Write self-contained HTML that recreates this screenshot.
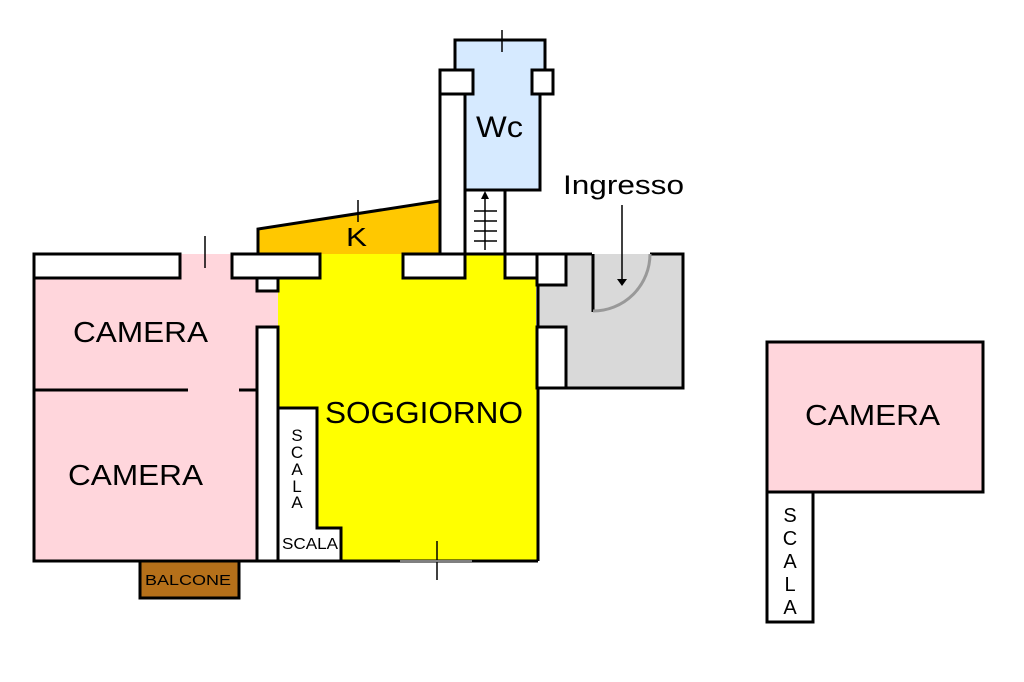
<!DOCTYPE html>
<html><head><meta charset="utf-8"><style>
html,body{margin:0;padding:0;background:#fff;width:1024px;height:682px;overflow:hidden}
svg{display:block}
text{font-family:"Liberation Sans",Arial,sans-serif;fill:#000}
</style></head><body>
<svg width="1024" height="682" viewBox="0 0 1024 682" xmlns="http://www.w3.org/2000/svg">
<polygon points="258,229 439,201 439,256 258,256" fill="#ffc800"/>
<rect x="34" y="254" width="244" height="307" fill="#ffd6dc"/>
<rect x="278" y="254" width="260" height="307" fill="#ffff00"/>
<rect x="536" y="254" width="147" height="134" fill="#d9d9d9"/>
<rect x="455" y="40" width="90" height="40" fill="#d6eaff"/>
<rect x="465" y="80" width="75" height="110" fill="#d6eaff"/>
<g stroke="#000" stroke-width="3" fill="#fff">
<polyline points="258,256 258,229 439,201" fill="none"/>
<polyline points="455,70 455,40 545,40 545,70" fill="none"/>
<polyline points="540,94 540,190 465,190" fill="none"/>
<rect x="465" y="190" width="40" height="64"/>
<rect x="440" y="94" width="25" height="160"/>
<rect x="440" y="70" width="33" height="24"/>
<rect x="532" y="70" width="21" height="24"/>
<polyline points="278,561 34,561 34,254" fill="none"/>
<line x1="278" y1="561" x2="538" y2="561"/>
<line x1="538" y1="278" x2="538" y2="561"/>
<rect x="34" y="254" width="146" height="24"/>
<rect x="232" y="254" width="88" height="24"/>
<rect x="257" y="278" width="21" height="13"/>
<rect x="403" y="254" width="62" height="24"/>
<rect x="505" y="254" width="33" height="24"/>
<rect x="257" y="327" width="21" height="234"/>
<line x1="34" y1="390" x2="188" y2="390"/>
<line x1="239" y1="390" x2="257" y2="390"/>
<polygon points="278,408 317,408 317,528 341,528 341,561 278,561"/>
<rect x="140" y="561" width="99" height="37" fill="#b5701a"/>
<rect x="537" y="254" width="29" height="31"/>
<rect x="537" y="327" width="29" height="61"/>
<polyline points="566,388 683,388 683,254 650,254" fill="none"/>
<line x1="566" y1="254" x2="592" y2="254"/>
<line x1="593" y1="254" x2="593" y2="312"/>
<rect x="767" y="342" width="216" height="150" fill="#ffd6dc"/>
<rect x="767" y="492" width="46" height="130"/>
</g>
<path d="M650,254 A57,57 0 0 1 593,311" fill="none" stroke="#999" stroke-width="3"/>
<g stroke="#000" stroke-width="1.5" fill="none">
<line x1="205" y1="236" x2="205" y2="268"/>
<line x1="358" y1="200" x2="358" y2="222"/>
<line x1="502" y1="30" x2="502" y2="52"/>
<line x1="437" y1="541" x2="437" y2="580"/>
<line x1="485" y1="250" x2="485" y2="196"/>
<line x1="474" y1="211" x2="497" y2="211"/>
<line x1="474" y1="221" x2="497" y2="221"/>
<line x1="474" y1="231" x2="497" y2="231"/>
<line x1="474" y1="241" x2="497" y2="241"/>
<line x1="622" y1="205" x2="622" y2="280"/>
</g>
<polygon points="485,191 481,199 489,199" fill="#000"/>
<polygon points="622,286 617,279 627,279" fill="#000"/>
<line x1="400" y1="561" x2="472" y2="561" stroke="#fff" stroke-width="1"/>
<text x="73" y="342" font-size="29" textLength="135" lengthAdjust="spacingAndGlyphs">CAMERA</text>
<text x="68" y="485" font-size="29" textLength="135" lengthAdjust="spacingAndGlyphs">CAMERA</text>
<text x="325" y="423" font-size="31" textLength="198" lengthAdjust="spacingAndGlyphs">SOGGIORNO</text>
<text x="805" y="425" font-size="29" textLength="135" lengthAdjust="spacingAndGlyphs">CAMERA</text>
<text x="476" y="137" font-size="30" textLength="47" lengthAdjust="spacingAndGlyphs">Wc</text>
<text x="346" y="246" font-size="26" textLength="21" lengthAdjust="spacingAndGlyphs">K</text>
<text x="563" y="194" font-size="27" textLength="121" lengthAdjust="spacingAndGlyphs">Ingresso</text>
<text x="145" y="585" font-size="15" textLength="86" lengthAdjust="spacingAndGlyphs">BALCONE</text>
<text x="282" y="549" font-size="16" textLength="56" lengthAdjust="spacingAndGlyphs">SCALA</text>
<g font-size="17" text-anchor="middle">
<text x="297" y="441">S</text><text x="297" y="458">C</text><text x="297" y="475">A</text><text x="297" y="492">L</text><text x="297" y="508">A</text>
</g>
<g font-size="20" text-anchor="middle">
<text x="790" y="522">S</text><text x="790" y="545">C</text><text x="790" y="568">A</text><text x="790" y="591">L</text><text x="790" y="614">A</text>
</g>
</svg>
</body></html>
